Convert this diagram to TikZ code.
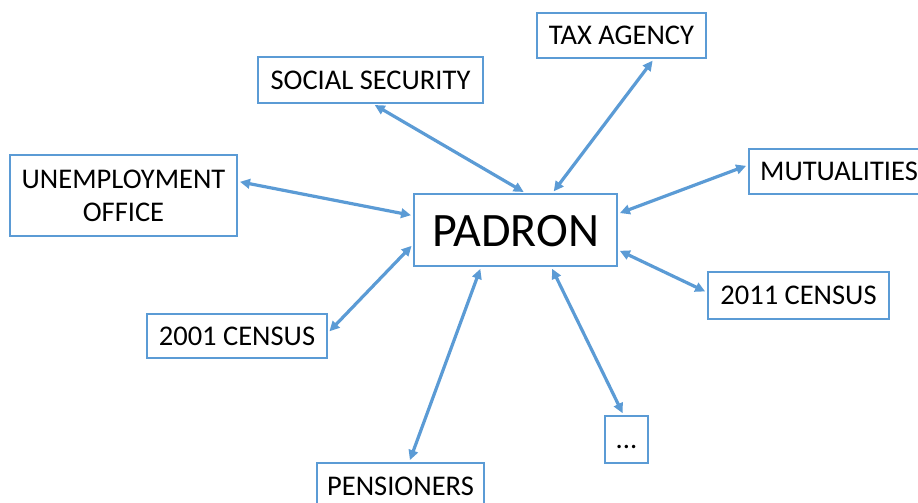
\documentclass[tikz,border=0pt]{standalone}
\usepackage{fontspec}
\setmainfont{Carlito}
\usetikzlibrary{arrows.meta}
\definecolor{link blue}{RGB}{91,155,213}

\tikzset{
	box/.style = {draw = link blue, line width = 2pt, inner sep = 0pt,
		text height = 18.5pt, text depth = 0pt, align = center,
		font = \fontsize{28.5}{33.5}\selectfont},
	link/.style = {draw = link blue, line width = 3.2pt,
		{Triangle[length = 10pt, width = 9.5pt]}-{Triangle[length = 10pt, width = 9.5pt]},
		shorten > = 2pt, shorten < = 2pt}
}

\begin{document}
\begin{tikzpicture}[x = 1pt, y = -1pt]
		\useasboundingbox (0, 0) rectangle (918, 503);
		\clip (0, 0) rectangle (918, 503);
		% the register in the middle
		\node[box, minimum width = 203pt, minimum height = 72pt,
			text height = 32pt, font = \fontsize{48}{52}\selectfont]
			(pad) at (515.5, 230) {PADRON};
		% the sources round it
		\node[box, minimum width = 225pt, minimum height = 46pt] (soc) at (370.5, 80) {SOCIAL SECURITY};
		\node[box, minimum width = 169pt, minimum height = 45pt] (tax) at (621.5, 35.5) {TAX AGENCY};
		\node[box, minimum width = 227pt, minimum height = 81pt, text height = 52pt]
			(unemp) at (123.5, 195.5) {UNEMPLOYMENT\\OFFICE};
		\node[box, minimum width = 180pt, minimum height = 45pt] (mut) at (839, 171.5) {MUTUALITIES};
		\node[box, minimum width = 181pt, minimum height = 47pt] (c11) at (798.5, 295.5) {2011 CENSUS};
		\node[box, minimum width = 180pt, minimum height = 44pt] (c01) at (237, 336) {2001 CENSUS};
		\node[box, minimum width = 167pt, minimum height = 46pt] (pen) at (400.5, 486) {PENSIONERS};
		\node[box, minimum width = 43pt, minimum height = 47pt] (etc) at (626.5, 439.5) {...};
		% links, both ways
		\draw[link] (soc.-84) -- (pad.75);
		\draw[link] (tax.-36) -- (pad.45);
		\draw[link] (unemp.7) -- (pad.172);
		\draw[link] (mut.176) -- (pad.9);
		\draw[link] (c11.178) -- (pad.-11);
		\draw[link] (c01.2) -- (pad.188);
		\draw[link] (pen.70) -- (pad.227);
		\draw[link] (etc.97) -- (pad.314);
	\end{tikzpicture}
\end{document}
